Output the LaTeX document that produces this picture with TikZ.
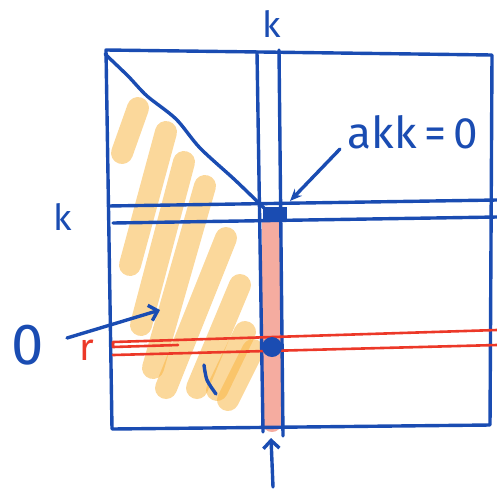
\documentclass[tikz,border=0pt]{standalone}
\usepackage{fontspec}
\setmainfont{Fira Sans}
\usepackage{tikz}
\usepackage{xcolor}
\usetikzlibrary{arrows.meta}

\definecolor{penblue}{RGB}{26,76,178}
\definecolor{penred}{RGB}{236,56,40}
\definecolor{hatch}{RGB}{248,180,64}
\definecolor{pivotcol}{RGB}{245,172,160}

\begin{document}
\begin{tikzpicture}[x=1pt, y=-1pt, line cap=round, line join=round,
    pen/.style={penblue, line width=3.4pt},
    redpen/.style={penred, line width=2.6pt},
    marker/.style={hatch, line width=22pt, opacity=0.52},
    barb/.style={-{Straight Barb[length=8pt,width=16pt,line width=3.4pt]}},
    hand/.style={penblue, inner sep=0pt, font=\fontsize{#1}{#1}\selectfont}]
    \useasboundingbox (0,0) rectangle (497,488);
    % highlighter strokes below the diagonal
    \foreach \xa/\ya/\xb/\yb in {138/108/122/153, 166/132/130/265, 184/162/141/325,
            205/186/153/368, 226/238/166/388, 240/285/197/388,
            245/332/217/390, 253/350/228/400}
        \draw[marker] (\xa,\ya) -- (\xb,\yb);
    % pivot column
    \fill[pivotcol] (262,220) rectangle (282,422);
    \fill[pivotcol] (272,422) circle (10);
    % matrix frame and diagonal
    \draw[pen] (106,50) -- (492,55) -- (490,425) -- (112,429) -- cycle;
    \draw[pen] plot[smooth] coordinates {(105,54) (128,76) (147,96) (176,119)
        (200,148) (235,180) (264,208)};
    \draw[pen] (257,52) -- (263,432);
    \draw[pen] (279,50) -- (283,436);
    \draw[pen] (108,206) -- (497,200);
    \draw[pen] (113,223) -- (497,217);
    \draw[redpen] (178,345) -- (113,347) -- (113,342) -- (497,330);
    \draw[redpen] (113,355) -- (497,345);
    \draw[pen] plot[smooth] coordinates {(204,365) (207,380) (216,394)};
    % pivot a_kk and entry in row r
    \fill[penblue] (263,207) rectangle (287,222);
    \fill[penblue] (272,347) circle (10);
    % labels
    \node[hand=36] (colk) at (272,24) {k};
    \node[hand=36] (rowk) at (63,217) {k};
    \node[hand=44] (akk) at (413,132) {akk\,=\,0};
    \node[hand=58] (zero) at (28,345) {0};
    \node[hand=38, penred] (rowr) at (87,350) {r};
    \coordinate (akktail) at (340,149);
    \coordinate (akkhead) at (290,201);
    \coordinate (zerotail) at (67,338);
    \coordinate (zerohead) at (160,310);
    \coordinate (coltail) at (273,487);
    \coordinate (colhead) at (271,438);
    \draw[pen, -{Stealth[length=12pt,width=10pt]}] (akktail) -- (akkhead);
    \draw[pen, barb] (zerotail) -- (zerohead);
    \draw[pen, barb] (coltail) -- (colhead);
\end{tikzpicture}
\end{document}
